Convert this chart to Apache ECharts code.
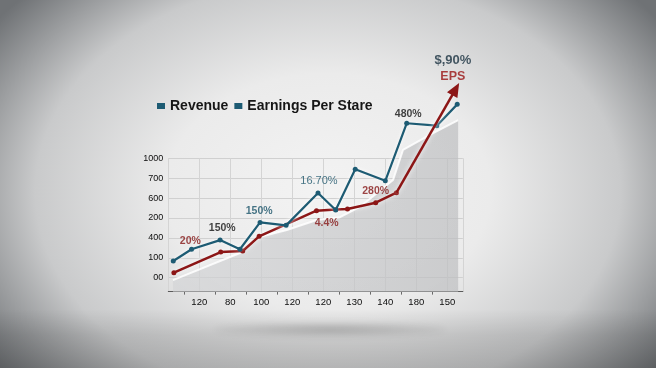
<!DOCTYPE html>
<html>
<head>
<meta charset="utf-8">
<script src="https://cdn.jsdelivr.net/npm/echarts@6/dist/echarts.min.js"></script>
<style>
html,body{margin:0;padding:0;width:656px;height:368px;overflow:hidden;}
body{background:
  linear-gradient(to bottom, rgba(0,0,0,0) 0%, rgba(0,0,0,0) 84%, rgba(0,0,0,0.10) 91%, rgba(0,0,0,0.16) 100%),
  radial-gradient(ellipse 62% 80% at 50% 52%, #f3f3f3 0%, #ebebeb 40%, #c9cacb 72%, #6f7275 100%);}
#shadow{position:absolute;left:215px;top:323px;width:230px;height:13px;border-radius:50%;
  background:radial-gradient(ellipse at center, rgba(0,0,0,0.22) 0%, rgba(0,0,0,0.08) 55%, rgba(0,0,0,0) 100%);filter:blur(3px);}
#chart{position:absolute;left:0;top:0;width:656px;height:368px;}
</style>
</head>
<body>
<div id="shadow"></div>
<div id="chart"></div>
<script>
// ---- data ----
const xTickLabels = ['120','80','100','120','120','130','140','180','150'];
const yTickLabels = ['00','100','400','200','600','700','1000'];

const revenueX = [0.16,0.75,1.67,2.31,2.96,3.80,4.83,5.40,6.03,7.00,7.69,8.66,9.32];
const revenueY = [0.84,1.43,1.89,1.43,2.78,2.63,4.26,3.40,5.45,4.87,7.76,7.64,8.71];

const epsX = [0.18,1.69,2.40,2.93,4.78,5.40,5.78,6.69,7.36];
const epsY = [0.25,1.29,1.34,2.08,3.37,3.43,3.45,3.77,4.27];
const epsArrowHead = [9.27,9.48];

const trendX = [0.15,2.31,2.96,3.82,4.79,5.54,6.19,7.25,7.57,8.54,9.35];
const trendY = [-0.12,1.24,2.06,2.40,2.90,3.04,3.57,4.91,6.42,7.27,7.92];

const annText = ['20%','150%','150%','16.70%','4.4%','280%','480%','$,90%','EPS'];
const annX = [0.71,1.74,2.93,4.86,5.11,6.69,7.74,9.18,9.18];
const annY = [1.84,2.51,3.35,4.86,2.75,4.37,8.23,10.94,10.09];
const annKind = ['red','black','teal','tealLight','red','red','black','dark','eps'];

// ---- styling ----
const TEAL = '#1d5b73';
const RED = '#8c1616';
const FONT = '"Liberation Sans", Arial, sans-serif';
const kindStyle = {
  red:{color:'#861818',fontSize:10.5,fontWeight:'bold'},
  black:{color:'#111111',fontSize:10.5,fontWeight:'bold'},
  teal:{color:'#1a5469',fontSize:10.5,fontWeight:'bold'},
  tealLight:{color:'#1a5469',fontSize:11,fontWeight:'normal'},
  dark:{color:'#18303e',fontSize:13,fontWeight:'bold'},
  eps:{color:'#9a1313',fontSize:12.5,fontWeight:'bold'}
};

const L = 168.3, UNIT_X = 31, XMAX = 9.5;
const Y0 = 277.7, UNIT_Y = 19.9, H = 368, W = 656;
const right = W - (L + XMAX * UNIT_X);
function topFor(v){ return Y0 - v * UNIT_Y; }
function bottomFor(v){ return H - (Y0 - v * UNIT_Y); }

const zip = (a,b) => a.map((v,i)=>[v,b[i]]);
const lastEps = [epsX[epsX.length-1], epsY[epsY.length-1]];

const chart = echarts.init(document.getElementById('chart'), null, {renderer:'canvas'});
const option = {
  animation:false,
  backgroundColor:'transparent',
  textStyle:{fontFamily:FONT},
  legend:{
    left:152, top:94, itemWidth:8, itemHeight:6, itemGap:6,
    icon:'rect',
    textStyle:{fontSize:14, fontWeight:'bold', color:'#161616', fontFamily:FONT},
    data:[
      {name:'Revenue', itemStyle:{color:TEAL}},
      {name:'Earnings Per Stare', itemStyle:{color:TEAL}}
    ]
  },
  grid:[
    {left:L, right:right, top:topFor(6), bottom:bottomFor(-0.7)},
    {left:L, right:right, top:topFor(6), bottom:bottomFor(0)},
    {left:L, right:right, top:topFor(12), bottom:bottomFor(-0.7)}
  ],
  xAxis:[
    {gridIndex:0, type:'value', min:0, max:XMAX, interval:1,
      axisLine:{show:true, onZero:false, lineStyle:{color:'#5a5a5a', width:1}},
      axisTick:{show:false},
      minorTick:{show:true, splitNumber:2, length:3, lineStyle:{color:'#6a6a6a'}},
      splitLine:{show:true, lineStyle:{color:'#d4d4d4', width:1}},
      axisLabel:{margin:6, fontSize:9.5, color:'#0d0d0d', fontFamily:FONT,
        formatter:v => (Number.isInteger(v) && v>=1 && v<=xTickLabels.length) ? xTickLabels[v-1] : ''}},
    {gridIndex:1, type:'value', min:0, max:XMAX, show:false},
    {gridIndex:2, type:'value', min:0, max:XMAX, show:false}
  ],
  yAxis:[
    {gridIndex:0, type:'value', min:-0.7, max:6, show:false},
    {gridIndex:1, type:'value', min:0, max:6, interval:1,
      axisLine:{show:false}, axisTick:{show:false},
      splitLine:{show:true, lineStyle:{color:'#d0d0d0', width:1}},
      axisLabel:{margin:5, fontSize:9, color:'#0d0d0d', fontFamily:FONT,
        formatter:v => yTickLabels[v] !== undefined ? yTickLabels[v] : ''}},
    {gridIndex:2, type:'value', min:-0.7, max:12, show:false}
  ],
  series:[
    {name:'trend', type:'line', xAxisIndex:2, yAxisIndex:2, data:zip(trendX,trendY),
      symbol:'none', silent:true, z:1,
      lineStyle:{color:'rgba(255,255,255,0.85)', width:2},
      areaStyle:{origin:'start', color:{type:'linear',x:0,y:0,x2:1,y2:0,
        colorStops:[{offset:0,color:'#d3d4d6'},{offset:1,color:'#bdbec0'}]}}},
    {name:'Revenue', type:'line', xAxisIndex:2, yAxisIndex:2, data:zip(revenueX,revenueY),
      symbol:'circle', symbolSize:5, z:4,
      itemStyle:{color:TEAL},
      lineStyle:{color:TEAL, width:2.2, shadowColor:'rgba(255,255,255,0.9)', shadowBlur:4}},
    {name:'Earnings Per Stare', type:'line', xAxisIndex:2, yAxisIndex:2, data:zip(epsX,epsY),
      symbol:'circle', symbolSize:5, z:3,
      itemStyle:{color:RED},
      lineStyle:{color:RED, width:2.5, shadowColor:'rgba(255,255,255,0.9)', shadowBlur:5},
      markLine:{silent:true, symbol:['none','triangle'], symbolSize:[12,14], label:{show:false},
        itemStyle:{color:RED},
        lineStyle:{color:RED, width:2.5, type:'solid', shadowColor:'rgba(255,255,255,0.9)', shadowBlur:5},
        data:[[{coord:lastEps},{coord:epsArrowHead}]]}},
    {name:'annotations', type:'scatter', xAxisIndex:2, yAxisIndex:2, silent:true, z:6,
      symbolSize:0.1, itemStyle:{color:'transparent'},
      data:annText.map((t,i)=>({value:[annX[i],annY[i]], name:t,
        label:Object.assign({show:true, position:'inside', formatter:t, fontFamily:FONT}, kindStyle[annKind[i]])}))}
  ]
};
chart.setOption(option);
</script>
</body>
</html>
